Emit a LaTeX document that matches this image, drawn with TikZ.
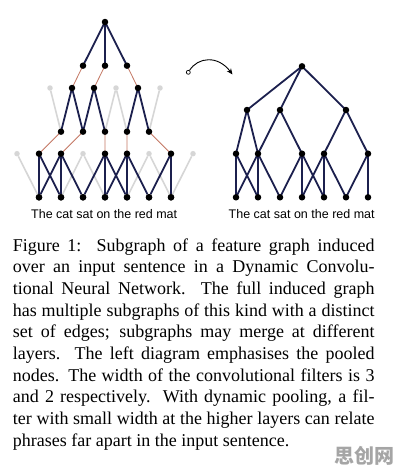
\documentclass[tikz,border=0pt]{standalone}
\usepackage{fontspec}
\setmainfont{Liberation Serif}
\newfontfamily\wordfont{Liberation Sans}
\newfontfamily\cjk{Noto Sans CJK SC}
\usetikzlibrary{arrows.meta}
\definecolor{navy}{RGB}{28,32,78}
\definecolor{redline}{RGB}{196,120,100}
\definecolor{ghost}{RGB}{214,214,214}
\definecolor{wmark}{RGB}{165,165,165}
\tikzset{
  dot/.style={circle, fill=black, inner sep=0pt, minimum size=6.5pt},
  gdot/.style={circle, fill=ghost, inner sep=0pt, minimum size=5.5pt},
  nedge/.style={draw=navy, line width=1.8pt},
  redge/.style={draw=redline, line width=0.8pt},
  gedge/.style={draw=ghost, line width=1.6pt},
  capline/.style={anchor=base west, inner sep=0pt, font=\fontsize{18}{21.7}\selectfont},
  words/.style={anchor=base, inner sep=0pt, font=\wordfont\fontsize{12.5}{14}\selectfont}
}
\begin{document}
\begin{tikzpicture}[x=1pt, y=-1pt]
\useasboundingbox (0,0) rectangle (401,475);
\fill[white] (0,0) rectangle (401,475);

% ---------------- left diagram ----------------
% words
\foreach \j in {1,...,7} \node[dot] (w\j) at ({39+22*(\j-1)},197.3) {};
% layer 1
\foreach \i in {0,3,6,8} \node[gdot] (a\i) at ({17+22*\i},153.7) {};
\foreach \i in {1,2,4,5,7} \coordinate (a\i) at ({17+22*\i},153.7);
% layer 2 (pooled)
\foreach \i in {1,...,5} \coordinate (b\i) at ({61+22*(\i-1)},131.7);
% layer 3
\foreach \i in {0,3,5} \node[gdot] (c\i) at ({50+22*\i},88) {};
\foreach \i in {1,2,4} \coordinate (c\i) at ({50+22*\i},88);
% layer 4
\foreach \i in {1,2,3} \coordinate (d\i) at ({83+22*(\i-1)},65.7);
\coordinate (t) at (105,22);

% gray edges
\path[gedge] (a0) -- (w1) (a3) -- (w2) (a3) -- (w4) (a6) -- (w5) (a6) -- (w7) (a8) -- (w7);
\path[gedge] (c0) -- (b1) (c3) -- (b3) (c3) -- (b4) (c5) -- (b5);
% red (pooling) edges
\path[redge] (b1) -- (a1) (b2) -- (a2) (b3) -- (a4) (b4) -- (a5) (b5) -- (a7);
\path[redge] (d1) -- (c1) (d2) -- (c2) (d3) -- (c4);
% navy edges
\path[nedge] (a1) -- (w1) (a1) -- (w2)
  (a2) -- (w1) (a2) -- (w2) (a2) -- (w3)
  (a4) -- (w3) (a4) -- (w4) (a4) -- (w5)
  (a5) -- (w4) (a5) -- (w5) (a5) -- (w6)
  (a7) -- (w6) (a7) -- (w7);
\path[nedge] (c1) -- (b1) (c1) -- (b2) (c2) -- (b2) (c2) -- (b3) (c4) -- (b4) (c4) -- (b5);
\path[nedge] (t) -- (d1) (t) -- (d2) (t) -- (d3);
% black nodes on top
\foreach \n in {a1,a2,a4,a5,a7,b1,b2,b3,b4,b5,c1,c2,c4,d1,d2,d3,t} \node[dot] at (\n) {};
\foreach \j in {1,...,7} \node[dot] at (w\j) {};

\node[words] (lwords) at (104.2,218.3) {The cat sat on the red mat};

% ---------------- arrow ----------------
\node[circle, draw=black, line width=0.7pt, fill=white, inner sep=0pt, minimum size=4pt] (s) at (188.3,72.3) {};
\coordinate (e) at (232.5,74.5);
\draw[line width=0.9pt, -{Stealth[length=6pt,width=5pt]}] (s) .. controls (198,57) and (218,55) .. (e);

% ---------------- right diagram ----------------
\foreach \j in {1,...,7} \coordinate (rw\j) at ({236+22*(\j-1)},197.3);
\foreach \i in {1,2,4,5,7} \coordinate (ra\i) at ({236+22*(\i-1)},153.7);
\coordinate (rb1) at (247,110);
\coordinate (rb2) at (280,110);
\coordinate (rb3) at (346,110);
\coordinate (rt) at (302,66.3);
\path[nedge] (ra1) -- (rw1) (ra1) -- (rw2)
  (ra2) -- (rw1) (ra2) -- (rw2) (ra2) -- (rw3)
  (ra4) -- (rw3) (ra4) -- (rw4) (ra4) -- (rw5)
  (ra5) -- (rw4) (ra5) -- (rw5) (ra5) -- (rw6)
  (ra7) -- (rw6) (ra7) -- (rw7);
\path[nedge] (rb1) -- (ra1) (rb1) -- (ra2) (rb2) -- (ra2) (rb2) -- (ra4) (rb3) -- (ra5) (rb3) -- (ra7);
\path[nedge] (rt) -- (rb1) (rt) -- (rb2) (rt) -- (rb3);
\foreach \n in {rw1,rw2,rw3,rw4,rw5,rw6,rw7,ra1,ra2,ra4,ra5,ra7,rb1,rb2,rb3,rt} \node[dot] at (\n) {};

\node[words] (rwords) at (301.7,218.3) {The cat sat on the red mat};

% ---------------- caption ----------------
\node[capline] (l1) at (12.7,251) {\makebox[361.6pt][s]{Figure 1:\ \ Subgraph of a feature graph induced}};
\node[capline] (l2) at (12.7,272.7) {\makebox[361.6pt][s]{over an input sentence in a Dynamic Convolu-}};
\node[capline] (l3) at (12.7,294.4) {\makebox[361.6pt][s]{tional Neural Network.\ \ The full induced graph}};
\node[capline] (l4) at (12.7,316.1) {\makebox[361.6pt][s]{has multiple subgraphs of this kind with a distinct}};
\node[capline] (l5) at (12.7,337.8) {\makebox[361.6pt][s]{set of edges; subgraphs may merge at different}};
\node[capline] (l6) at (12.7,359.5) {\makebox[361.6pt][s]{layers.\ \ The left diagram emphasises the pooled}};
\node[capline] (l7) at (12.7,381.2) {\makebox[361.6pt][s]{nodes. The width of the convolutional filters is 3}};
\node[capline] (l8) at (12.7,402.9) {\makebox[361.6pt][s]{and 2 respectively.\ \ With dynamic pooling, a fil-}};
\node[capline] (l9) at (12.7,424.6) {\makebox[361.6pt][s]{ter with small width at the higher layers can relate}};
\node[capline] (l10) at (12.7,446.3) {phrases far apart in the input sentence.};

% watermark
\node[text=wmark, inner sep=0pt, font=\cjk\bfseries\fontsize{20}{22}\selectfont] (wm) at (364,456) {思创网};
\end{tikzpicture}
\end{document}
